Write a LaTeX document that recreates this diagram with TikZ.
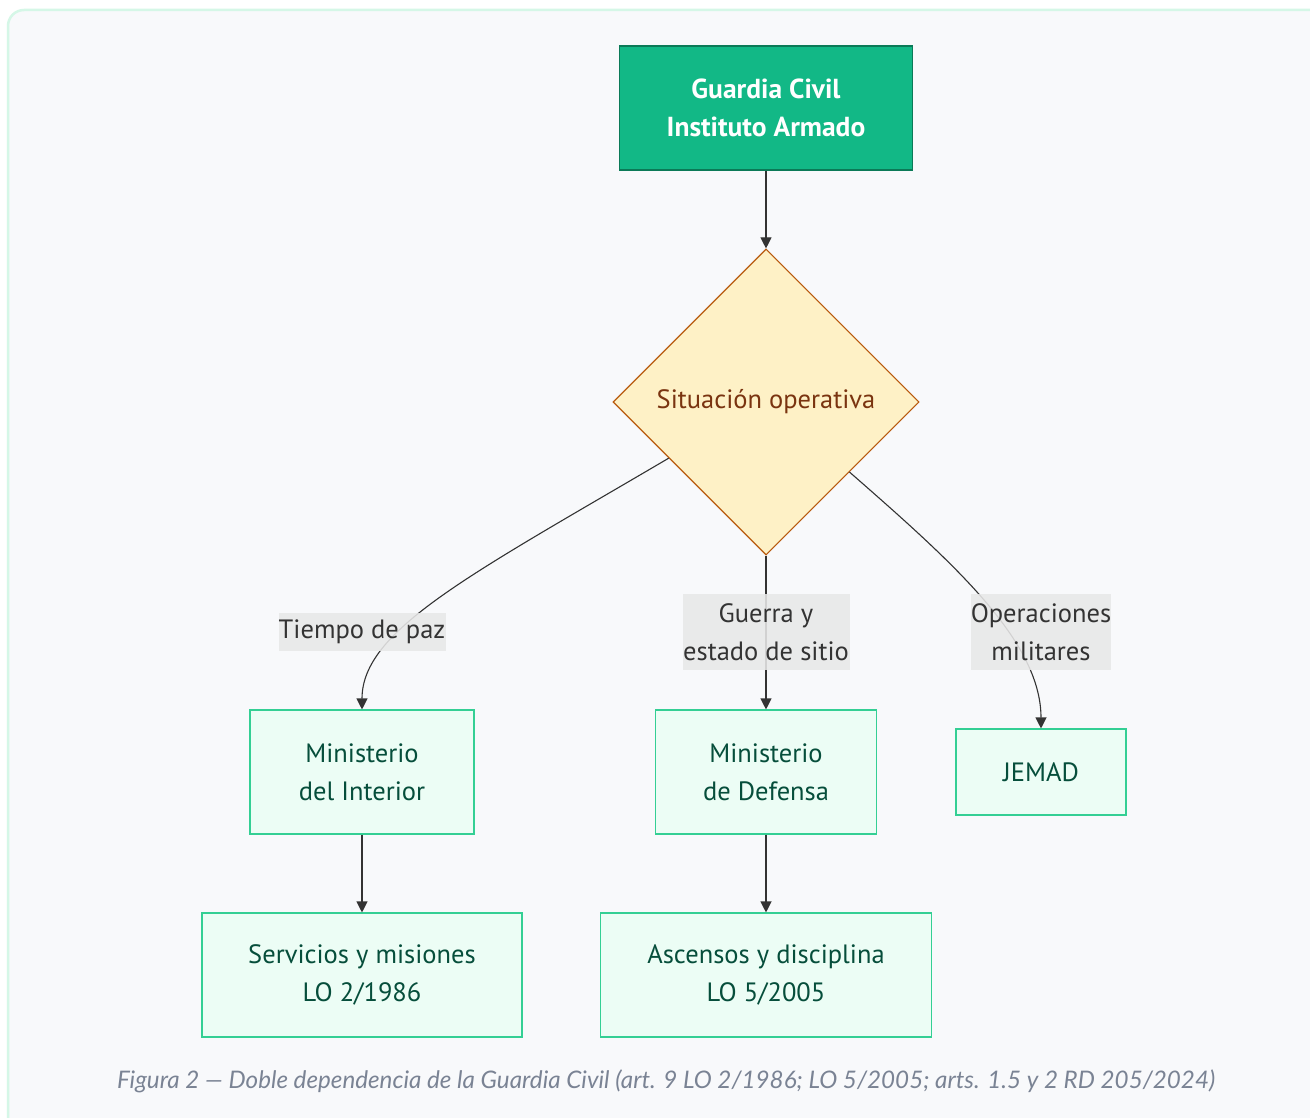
\documentclass[tikz,border=0pt]{standalone}
\usepackage{fontspec}
\setmainfont{PT Sans}
\newfontfamily\piefont{Lato}
\usetikzlibrary{shapes.geometric,arrows.meta}

\definecolor{fondo}{HTML}{F8F9FB}
\definecolor{marco}{HTML}{D5F7E7}
\definecolor{verde}{HTML}{12B886}
\definecolor{verdeborde}{HTML}{0B7A57}
\definecolor{menta}{HTML}{34CF94}
\definecolor{mentaclara}{HTML}{ECFDF5}
\definecolor{verdeosc}{HTML}{064E3B}
\definecolor{crema}{HTML}{FEF1C6}
\definecolor{ocre}{HTML}{B85A0E}
\definecolor{marron}{HTML}{7A3410}
\definecolor{gris}{HTML}{333333}
\definecolor{etiq}{HTML}{E8E8E8}
\definecolor{pie}{HTML}{7A8394}

\begin{document}
\begin{tikzpicture}[x=1pt,y=-1pt,
  font=\fontsize{26.5}{38}\selectfont,
  caja/.style={draw=menta,fill=mentaclara,text=verdeosc,line width=1.1pt,align=center,inner sep=0pt},
  raiz/.style={draw=verdeborde,fill=verde,text=white,line width=1.1pt,align=center,inner sep=0pt,font=\fontsize{27.5}{38}\selectfont\bfseries},
  decision/.style={diamond,draw=ocre,fill=crema,text=marron,line width=1.1pt,inner sep=0pt,minimum width=306pt,minimum height=306pt},
  etiqueta/.style={fill=etiq,fill opacity=.88,text opacity=1,text=gris,align=center,inner sep=0pt},
  flecha/.style={draw=gris,line width=1.1pt,-{Triangle[length=11pt,width=11pt]}}]

\useasboundingbox (0,0) rectangle (1310,1118);
\clip (0,0) rectangle (1310,1118);
\fill[white] (0,0) rectangle (1310,1118);
\draw[marco,fill=fondo,line width=2.5pt,rounded corners=16pt] (8,10) rectangle (1340,1150);

\node[raiz,minimum width=293pt,minimum height=124pt] (gc) at (766,108) {Guardia Civil\\Instituto Armado};
\node[decision] (sit) at (766,402) {Situación operativa};

\node[caja,minimum width=224pt,minimum height=124pt] (mint) at (362,772) {Ministerio\\del Interior};
\node[caja,minimum width=221pt,minimum height=124pt] (mdef) at (766,772) {Ministerio\\de Defensa};
\node[caja,minimum width=170pt,minimum height=86pt] (jemad) at (1041,772) {JEMAD};
\node[caja,minimum width=320pt,minimum height=124pt] (serv) at (362,975) {Servicios y misiones\\LO 2/1986};
\node[caja,minimum width=331pt,minimum height=124pt] (asc) at (766,975) {Ascensos y disciplina\\LO 5/2005};

% conexiones
\draw[flecha] (gc) -- (sit);
\draw[flecha] (sit.210) .. controls (470,575) and (362,630) .. (mint.north);
\draw[flecha] (sit) -- (mdef);
\draw[flecha] (sit.-40) .. controls (950,560) and (1041,640) .. (jemad.north);
\draw[flecha] (mint) -- (serv);
\draw[flecha] (mdef) -- (asc);

% etiquetas
\node[etiqueta,minimum width=167pt,minimum height=38pt] (lpaz) at (362,632) {Tiempo de paz};
\node[etiqueta,minimum width=167pt,minimum height=76pt] (lguerra) at (766,632) {Guerra y\\estado de sitio};
\node[etiqueta,minimum width=140pt,minimum height=76pt] (lops) at (1041,632) {Operaciones\\militares};

\node[text=pie,font=\piefont\itshape\fontsize{24.2}{28}\selectfont] (cap) at (666,1081)
  {Figura 2 — Doble dependencia de la Guardia Civil (art. 9 LO 2/1986; LO 5/2005; arts. 1.5 y 2 RD 205/2024)};
\end{tikzpicture}
\end{document}
